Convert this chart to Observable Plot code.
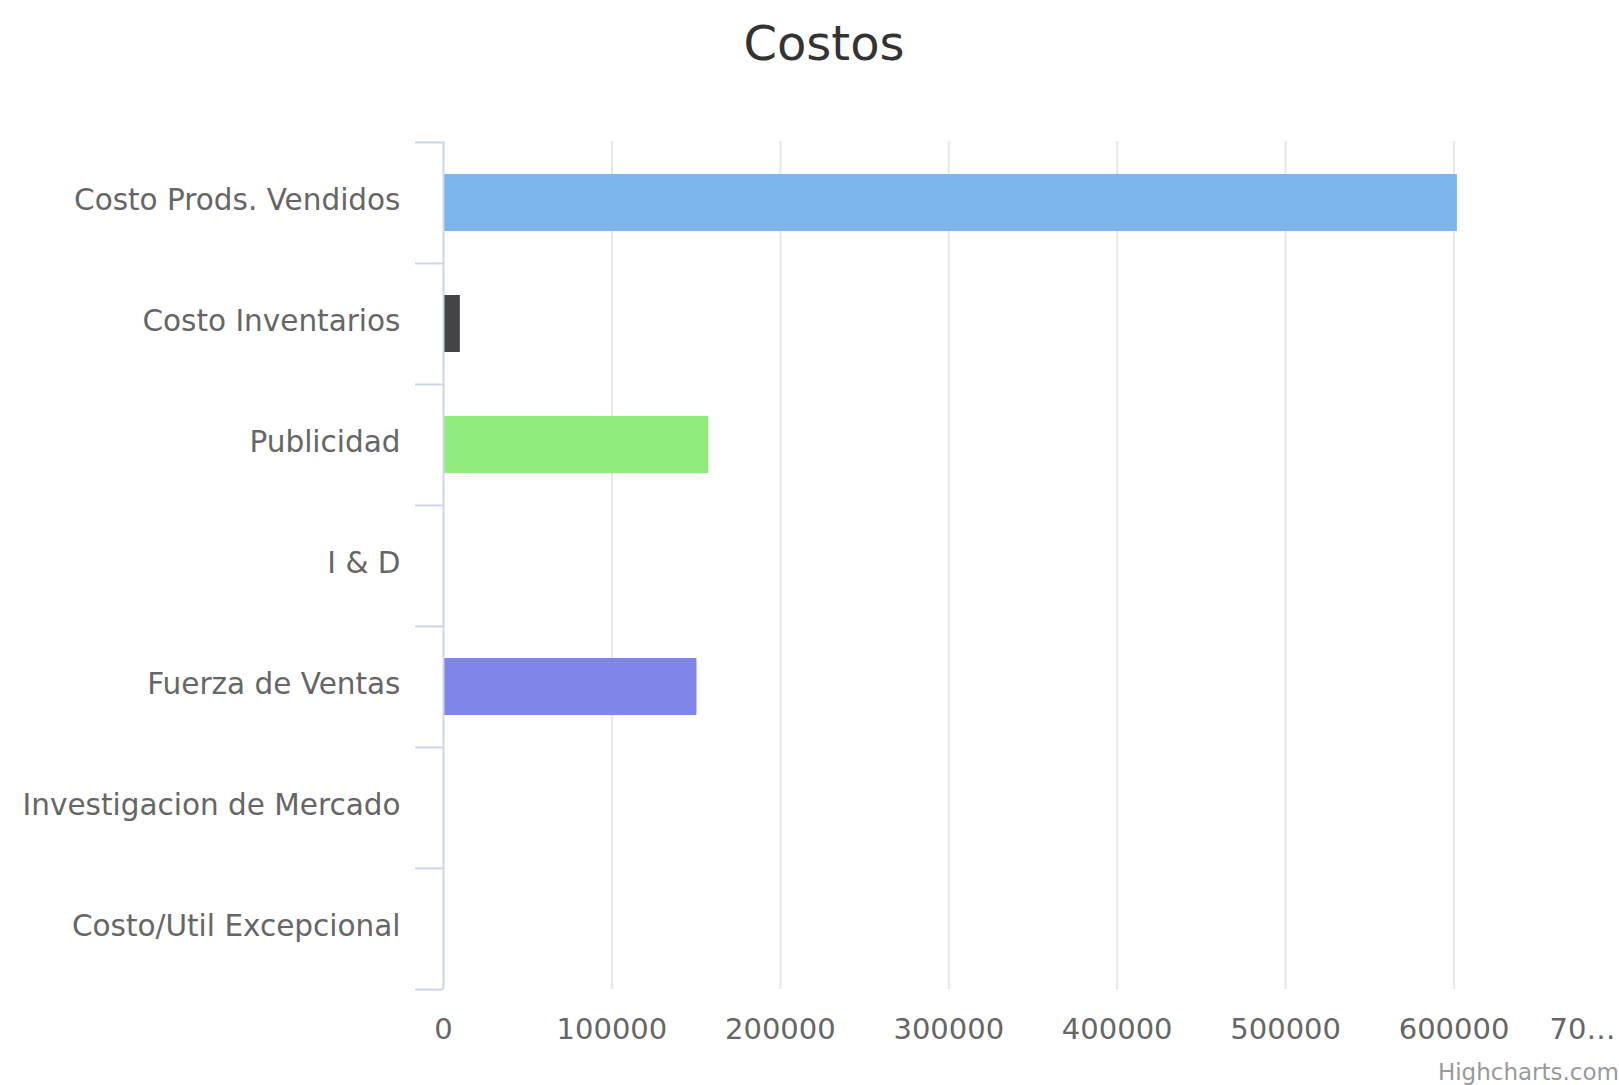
<!DOCTYPE html>
<html>
<head>
<meta charset="utf-8">
<script src="https://cdn.jsdelivr.net/npm/d3@7"></script>
<script src="https://cdn.jsdelivr.net/npm/@observablehq/plot@0.6"></script>
<style>
  html, body { margin: 0; padding: 0; background: #fff; overflow: hidden; }
  #wrap { position: relative; width: 1619px; height: 1085px; font-family: "DejaVu Sans", sans-serif; }
  #title { position: absolute; left: 0; top: 0; width: 1648px; height: 80px; text-align: center;
           font-size: 48px; line-height: 86px; color: #333; }
  #chart { position: absolute; left: 0; top: 80px; }
  #credits { position: absolute; right: 0; top: 1060px; font-size: 23px; line-height: 25px; color: #999; }
</style>
</head>
<body>
<div id="wrap">
  <div id="title">Costos</div>
  <div id="chart"></div>
  <div id="credits">Highcharts.com</div>
</div>
<script>
const categories = ["Costo Prods. Vendidos", "Costo Inventarios", "Publicidad", "I & D",
                    "Fuerza de Ventas", "Investigacion de Mercado", "Costo/Util Excepcional"];
const values = [602000, 10000, 157500, 0, 150500, 0, 0];
const xTicks = [0, 100000, 200000, 300000, 400000, 500000, 600000, 700000];
const xTickLabels = ["0", "100000", "200000", "300000", "400000", "500000", "600000", "70…"];
const palette = ["#7cb5ec", "#434348", "#90ed7d", "#f7a35c", "#8085e9", "#f15c80", "#e4d354"];

const data = categories.map((c, i) => ({category: c, value: values[i]}));

const marginTop = 61, marginBottom = 96, height = 1005;
const step = (height - marginTop - marginBottom) / categories.length;
const lbl = d => xTickLabels[xTicks.indexOf(d)];

const chart = Plot.plot({
  width: 1619,
  height,
  marginTop,
  marginBottom,
  marginLeft: 443,
  marginRight: 0,
  style: {fontFamily: "DejaVu Sans, sans-serif", fontSize: "29px", color: "#666", background: "#fff"},
  x: {domain: [0, 700000], range: [443, 1622]},
  y: {domain: categories, paddingInner: 0.53, paddingOuter: 0.265},
  color: {domain: categories, range: palette},
  marks: [
    Plot.ruleX(xTicks.slice(1), {stroke: "#e6e6e6", strokeWidth: 2}),
    Plot.barX(data, {x: "value", y: "category", fill: "category"}),
    Plot.ruleX([0], {stroke: "#ccd6eb", strokeWidth: 2}),
    Plot.axisY({tickSize: 28, fill: "none", stroke: "#ccd6eb", strokeWidth: 2, dy: -step / 2, label: null}),
    Plot.axisY({ticks: categories.slice(-1), tickSize: 28, fill: "none", stroke: "#ccd6eb", strokeWidth: 2, dy: step / 2, label: null}),
    Plot.axisY({tickSize: 0, tickPadding: 43, label: null, fill: "#666", fontSize: 29.5, dy: -2}),
    Plot.axisX({ticks: xTicks.slice(0, 7), tickFormat: lbl, tickSize: 0, tickPadding: 29, label: null, fill: "#666"}),
    Plot.axisX({ticks: xTicks.slice(7), tickFormat: lbl, tickSize: 0, tickPadding: 29, label: null, fill: "#666", textAnchor: "start", dx: -73})
  ]
});
document.getElementById("chart").appendChild(chart);
</script>
</body>
</html>
